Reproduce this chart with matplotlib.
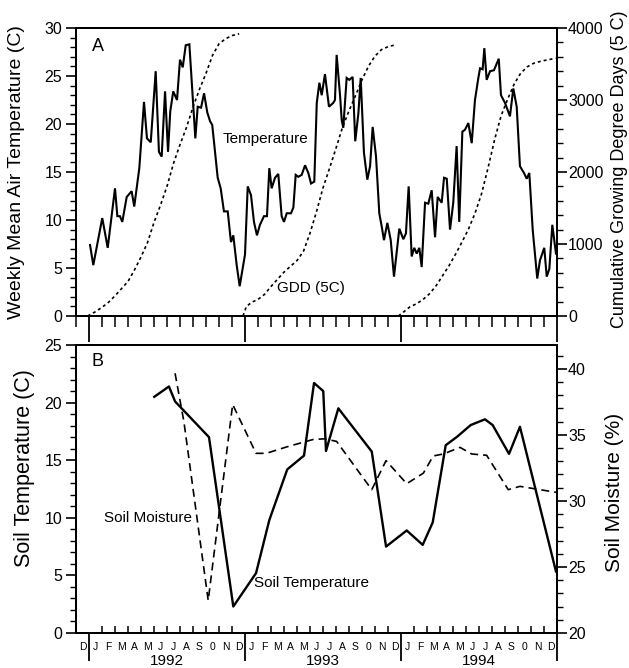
import matplotlib
matplotlib.use("Agg")
import matplotlib.pyplot as plt
from matplotlib.ticker import MultipleLocator, FixedLocator, NullFormatter
import matplotlib.transforms as mtransforms

plt.rcParams['font.family'] = ['Liberation Sans', 'DejaVu Sans']

# ---------------- data (x in months since 1 Jan 1992) ----------------
temp_month = [0.08, 0.33, 1.02, 1.44, 2.0, 2.18, 2.38, 2.56, 2.9, 3.28, 3.48, 3.87,
              4.23, 4.46, 4.75, 5.13, 5.38, 5.59, 5.85, 6.08, 6.25, 6.48, 6.77, 7.0,
              7.21, 7.44, 7.72, 8.02, 8.18, 8.36, 8.62, 8.85, 9.1, 9.31, 9.48, 9.9,
              10.13, 10.38, 10.67, 10.92, 11.1, 11.36, 11.59, 12.0, 12.21, 12.46, 12.69,
              12.92, 13.15, 13.46, 13.69, 13.87, 14.05, 14.31, 14.56, 14.82, 15.0, 15.21,
              15.54, 15.72, 15.9, 16.1, 16.36, 16.62, 16.87, 17.08, 17.33, 17.52, 17.72,
              17.9, 18.15, 18.46, 18.79, 18.92, 19.05, 19.31, 19.44, 19.56, 19.82, 20.02,
              20.28, 20.48, 20.72, 20.9, 21.15, 21.41, 21.62, 21.82, 22.08, 22.33, 22.52,
              22.69, 22.95, 23.21, 23.46, 23.67, 23.87, 24.18, 24.38, 24.59, 24.82, 25.02,
              25.21, 25.41, 25.59, 25.85, 26.1, 26.36, 26.62, 26.82, 27.13, 27.31, 27.52,
              27.77, 28.02, 28.28, 28.48, 28.72, 28.92, 29.18, 29.44, 29.69, 29.95, 30.08,
              30.28, 30.41, 30.59, 30.85, 31.15, 31.52, 31.69, 32.0, 32.38, 32.64, 32.9,
              33.15, 33.46, 33.67, 33.87, 34.13, 34.48, 34.69, 35.02, 35.21, 35.41, 35.64,
              35.92]
temp_c = [7.4, 5.3, 10.2, 7.1, 13.3, 10.4, 10.4, 9.8, 12.4, 13.0, 11.4, 15.4,
          22.3, 18.5, 18.1, 25.5, 17.1, 16.6, 23.4, 17.1, 21.3, 23.4, 22.5, 26.7,
          25.9, 28.2, 28.3, 21.8, 18.5, 21.8, 21.7, 23.2, 21.2, 20.3, 19.9, 14.4,
          13.3, 10.9, 10.9, 7.7, 8.4, 5.3, 3.1, 6.4, 13.5, 12.6, 9.8,
          8.4, 9.5, 10.4, 10.4, 15.4, 13.3, 14.4, 14.8, 10.4, 9.8, 10.7,
          10.7, 11.3, 14.7, 14.5, 14.7, 15.7, 14.9, 13.8, 14.0, 22.2, 24.3,
          23.0, 25.2, 21.8, 22.2, 22.5, 27.2, 23.0, 20.4, 19.6, 24.8, 24.6,
          24.9, 18.2, 21.1, 24.8, 17.0, 14.2, 15.6, 19.7, 16.6, 10.7, 9.3,
          7.9, 9.7, 7.9, 4.1, 6.7, 9.1, 8.0, 8.6, 13.5, 6.2, 7.1,
          6.5, 7.1, 5.1, 11.8, 11.7, 13.1, 8.2, 12.4, 11.8, 14.4, 14.3,
          9.0, 11.8, 17.7, 9.8, 19.2, 19.4, 20.1, 18.0, 22.5, 24.8, 25.8,
          25.7, 27.9, 24.6, 25.5, 25.6, 26.8, 23.0, 22.2, 20.8, 23.7, 21.8,
          15.6, 14.9, 14.3, 14.9, 9.0, 3.9, 5.8, 7.1, 4.1, 4.9, 9.5,
          6.5]

gdd92_month = [-0.1, 0.5, 1.0, 1.5, 2.0, 2.5, 3.0, 3.5, 4.0, 4.5, 5.0, 5.5, 6.0, 6.5,
               7.0, 7.5, 8.0, 8.5, 9.0, 9.5, 10.0, 10.5, 11.0, 11.55]
gdd92 = [0, 60, 120, 190, 280, 380, 480, 640, 820, 1020, 1300, 1540, 1800, 2120,
         2380, 2620, 2900, 3150, 3370, 3620, 3780, 3850, 3895, 3920]
gdd93_month = [11.85, 12.1, 12.5, 13.0, 13.5, 14.0, 14.5, 15.0, 15.5, 16.0, 16.5,
               17.0, 17.5, 18.0, 18.5, 19.0, 19.5, 20.0, 20.5, 21.0, 21.5, 22.0,
               22.5, 23.0, 23.55]
gdd93 = [0, 130, 190, 230, 300, 410, 510, 610, 690, 770, 900, 1150, 1450, 1780,
         2050, 2330, 2620, 2850, 3060, 3280, 3470, 3610, 3700, 3740, 3765]
gdd94_month = [23.8, 24.3, 24.7, 25.2, 25.7, 26.2, 26.7, 27.2, 27.7, 28.2, 28.7,
               29.2, 29.7, 30.2, 30.7, 31.2, 31.7, 32.2, 32.7, 33.2, 33.7, 34.2,
               34.7, 35.2, 35.9]
gdd94 = [0, 70, 129, 170, 230, 310, 420, 560, 700, 860, 1030, 1210, 1430, 1700,
         2060, 2450, 2780, 3010, 3220, 3370, 3460, 3510, 3535, 3555, 3580]

soilT_month = [5.02, 6.15, 6.62, 9.23, 11.1, 12.85, 13.87, 15.25, 16.54, 17.31, 18.02,
               18.23, 19.18, 21.75, 22.85, 24.44, 25.67, 26.44, 27.44, 28.33, 29.36,
               30.46, 31.05, 32.31, 33.15, 35.92]
soil_temp = [20.5, 21.4, 20.1, 17.0, 2.3, 5.2, 9.8, 14.2, 15.4, 21.7, 21.0,
             15.8, 19.5, 15.75, 7.5, 8.9, 7.65, 9.6, 16.3, 17.05, 18.05,
             18.55, 18.05, 15.55, 17.9, 5.35]

soilM_month = [6.62, 7.3, 9.17, 11.05, 12.85, 13.64, 15.25, 17.25, 18.15, 19.05,
               21.75, 22.85, 24.44, 25.72, 26.48, 27.25, 28.54, 29.44, 30.59, 32.25,
               33.15, 35.92]
soil_moist = [39.66, 36.0, 22.46, 37.3, 33.6, 33.6, 34.1, 34.65, 34.7, 34.5,
              30.85, 33.05, 31.3, 32.1, 33.4, 33.55, 34.05, 33.55, 33.45, 30.85,
              31.1, 30.65]

month_letters = ['D', 'J', 'F', 'M', 'A', 'M', 'J', 'J', 'A', 'S', '0', 'N', 'D',
                 'J', 'F', 'M', 'A', 'M', 'J', 'J', 'A', 'S', '0', 'N', 'D',
                 'J', 'F', 'M', 'A', 'M', 'J', 'J', 'A', 'S', '0', 'N', 'D']
years = ['1992', '1993', '1994']

# ---------------- figure ----------------
W, H = 629, 668
fig = plt.figure(figsize=(W / 100, H / 100), dpi=100)

def rect(l, t, r, b):
    return [l / W, 1 - b / H, (r - l) / W, (b - t) / H]

axA = fig.add_axes(rect(76, 28, 557, 316))
axB = fig.add_axes(rect(76, 345, 557, 633))

XMIN, XMAX = -1, 36
lw_line = 1.5
black = 'black'

# ----- panel A -----
axA.plot(temp_month, temp_c, color=black, lw=lw_line, solid_joinstyle='miter')
axA.set_xlim(XMIN, XMAX)
axA.set_ylim(0, 30)
axA2 = axA.twinx()
dot = (0, (1.8, 1.8))
for gm, gv in [(gdd92_month, gdd92), (gdd93_month, gdd93), (gdd94_month, gdd94)]:
    axA2.plot(gm, gv, color=black, lw=1.2, linestyle=dot)
axA2.set_ylim(0, 4000)
axA2.set_xlim(XMIN, XMAX)

axA.yaxis.set_major_locator(MultipleLocator(5))
axA.yaxis.set_minor_locator(MultipleLocator(1))
axA2.yaxis.set_major_locator(MultipleLocator(1000))
axA2.yaxis.set_minor_locator(MultipleLocator(200))

axA.set_ylabel('Weekly Mean Air Temperature (C)', fontsize=14)
axA.yaxis.set_label_coords(-0.106, 0.5)
axA2.set_ylabel('Cumulative Growing Degree Days (5 C)', fontsize=13, rotation=90)
axA2.yaxis.set_label_coords(1.112, 0.51)

axA.text(0.67, 28.1, 'A', fontsize=13, ha='center', va='center')
axA.text(10.28, 18.4, 'Temperature', fontsize=11, ha='left', va='center')
axA.text(14.44, 2.9, 'GDD (5C)', fontsize=11, ha='left', va='center')

# ----- panel B -----
axB.plot(soilT_month, soil_temp, color=black, lw=lw_line + 0.2)
axB.set_xlim(XMIN, XMAX)
axB.set_ylim(0, 25)
axB2 = axB.twinx()
axB2.plot(soilM_month, soil_moist, color=black, lw=1.2, linestyle=(0, (4.8, 3)))
axB2.set_ylim(20, 41.8)
axB2.set_xlim(XMIN, XMAX)

axB.yaxis.set_major_locator(MultipleLocator(5))
axB.yaxis.set_minor_locator(MultipleLocator(1))
axB2.yaxis.set_major_locator(FixedLocator([20, 25, 30, 35, 40]))
axB2.yaxis.set_minor_locator(MultipleLocator(1))

axB.set_ylabel('Soil Temperature (C)', fontsize=15.5)
axB.yaxis.set_label_coords(-0.085, 0.571)
axB2.set_ylabel('Soil Moisture (%)', fontsize=15)
axB2.yaxis.set_label_coords(1.10, 0.488)

axB.text(0.67, 23.55, 'B', fontsize=13, ha='center', va='center')
axB.text(1.18, 10.0, 'Soil Moisture', fontsize=11, ha='left', va='center')
axB.text(12.69, 4.36, 'Soil Temperature', fontsize=11, ha='left', va='center')

# ----- common styling -----
for ax in (axA, axA2, axB, axB2):
    for s in ax.spines.values():
        s.set_linewidth(1.4)
    ax.tick_params(axis='y', which='major', length=7, width=1.2, labelsize=11.5, pad=3)
    ax.tick_params(axis='y', which='minor', length=4, width=1.0)

for ax in (axA2, axB2):
    ax.tick_params(axis='y', which='major', pad=1)

month_edges = list(range(XMIN, XMAX + 1))
year_edges = [0, 12, 24, 36]

for ax in (axA, axB):
    ax.xaxis.set_major_locator(FixedLocator(year_edges))
    ax.xaxis.set_minor_locator(FixedLocator(month_edges))
    ax.xaxis.set_major_formatter(NullFormatter())
    ax.xaxis.set_minor_formatter(NullFormatter())

axA.tick_params(axis='x', which='minor', direction='out', length=8, width=1.1)
axA.tick_params(axis='x', which='major', direction='out', length=19, width=1.3)
axB.tick_params(axis='x', which='minor', direction='in', length=5, width=1.1)
axB.tick_params(axis='x', which='major', direction='out', length=20, width=1.3)

trans = mtransforms.blended_transform_factory(axB.transData, fig.transFigure)
for i, lab in enumerate(month_letters):
    axB.text(XMIN + i + 0.5, 1 - 647 / H, lab, transform=trans, fontsize=7.5,
             ha='center', va='center')
for i, yr in enumerate(years):
    axB.text(12 * i + 6, 1 - 661 / H, yr, transform=trans, fontsize=11,
             ha='center', va='center')

fig.savefig('out.png', dpi=100)
